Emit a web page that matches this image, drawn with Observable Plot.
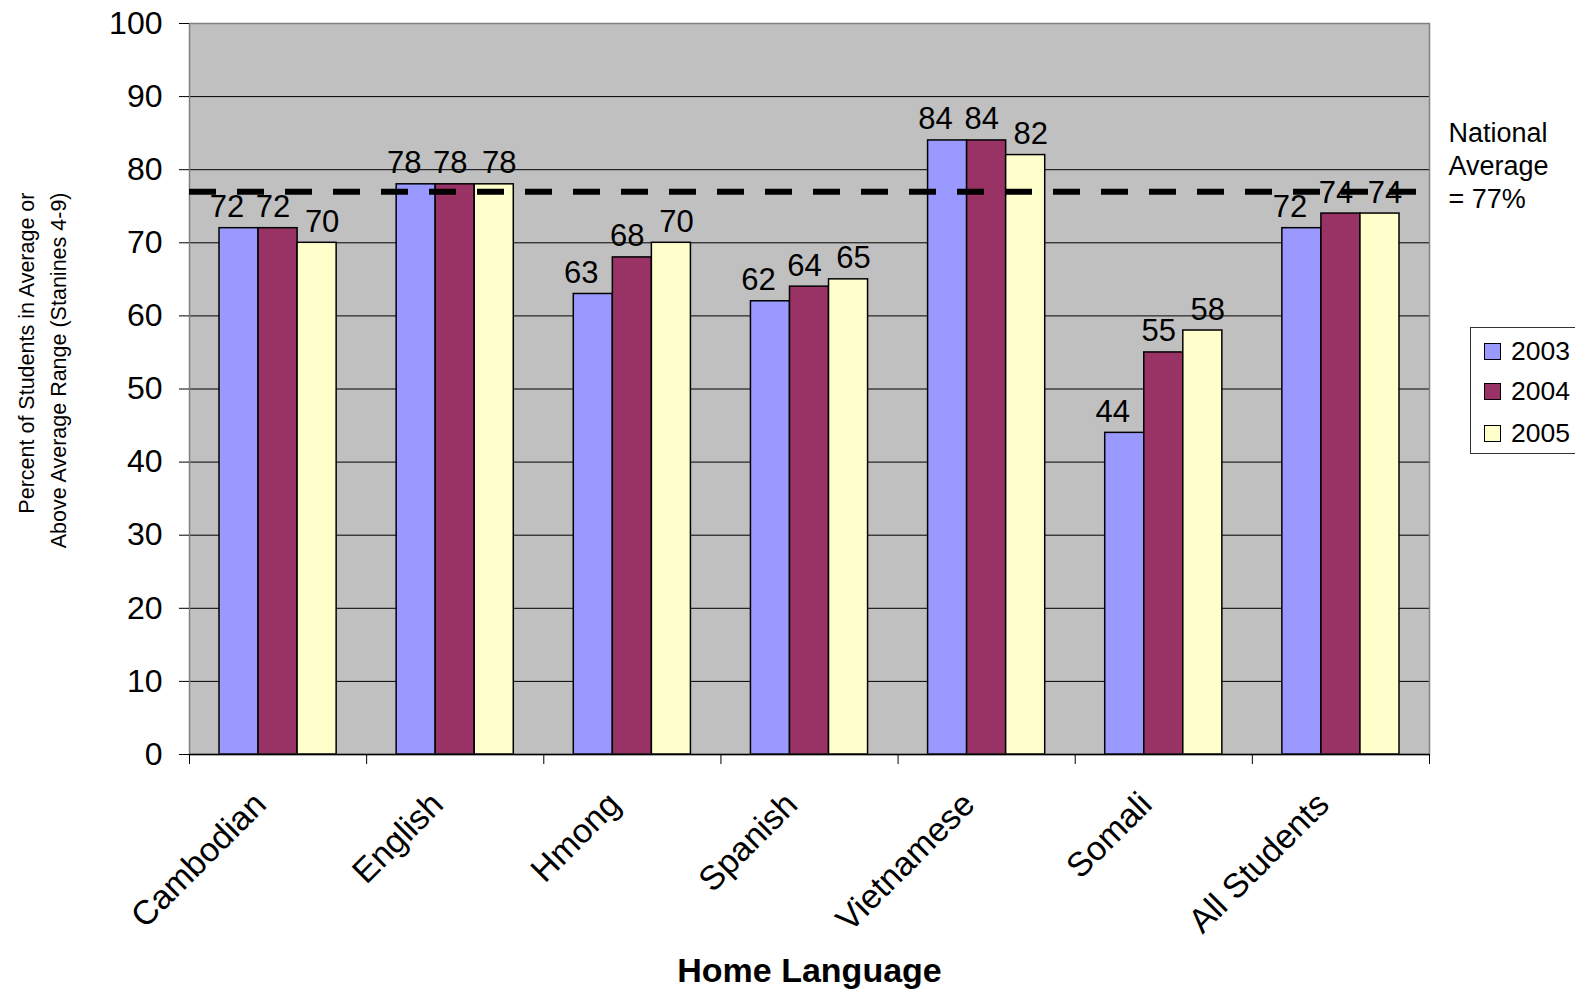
<!DOCTYPE html>
<html>
<head>
<meta charset="utf-8">
<script src="https://cdn.jsdelivr.net/npm/d3@7"></script>
<script src="https://cdn.jsdelivr.net/npm/@observablehq/plot@0.6"></script>
<style>
  html, body { margin: 0; padding: 0; background: #fff; overflow: hidden; }
  #wrap { position: relative; width: 1575px; height: 990px; font-family: "Liberation Sans", Arial, sans-serif; }
  #legend { position: absolute; left: 1470px; top: 327px; width: 130px; height: 127px; box-sizing: border-box; border: 1px solid #333; background: #fff; }
  .item { position: absolute; left: 13px; height: 30px; display: flex; align-items: center; font-size: 26.5px; color: #000; }
  .sw { width: 15px; height: 15px; border: 1px solid #000; margin-right: 10px; flex: none; }
</style>
</head>
<body>
<div id="wrap"></div>
<script>
// Home-language groups and the three school years shown for each
const categories = ["Cambodian", "English", "Hmong", "Spanish", "Vietnamese", "Somali", "All Students"];
const years = ["2003", "2004", "2005"];
const colors = ["#9999FF", "#993366", "#FFFFCC"];

// Percent of students in the average or above-average range (stanines 4-9)
const values2003 = [72, 78, 63, 62, 84, 44, 72];
const values2004 = [72, 78, 68, 64, 84, 55, 74];
const values2005 = [70, 78, 70, 65, 82, 58, 74];

const yTicks = [0, 10, 20, 30, 40, 50, 60, 70, 80, 90, 100];
const nationalAverage = 77;
const nationalLabel = "National\nAverage\n= 77%";
const yTitle = "Percent of Students in Average or\nAbove Average Range (Stanines 4-9)";
const xTitle = "Home Language";

const series = [values2003, values2004, values2005];
const rows = categories.flatMap((category, i) =>
  years.map((year, j) => ({category, index: i, year, value: series[j][i]}))
);

// Position of each year's bar inside its language group (in group units)
const inner = d3.scaleBand().domain(years).range([0.1694, 0.8306]);
const labelShift = {"2003": -12, "2004": -5, "2005": 5};

const font = "'Liberation Sans', Arial, sans-serif";

const chart = Plot.plot({
  width: 1575,
  height: 990,
  marginLeft: 189,
  marginRight: 146,
  marginTop: 23,
  marginBottom: 236,
  x: {domain: [0, categories.length], axis: null},
  y: {domain: [0, 100], axis: null},
  color: {domain: years, range: colors},
  style: {fontFamily: font, background: "white", overflow: "visible", color: "black"},
  marks: [
    Plot.frame({fill: "#C0C0C0"}),
    Plot.ruleY(yTicks.slice(1, -1), {stroke: "black", strokeWidth: 1}),
    Plot.rect(rows, {
      x1: d => d.index + inner(d.year),
      x2: d => d.index + inner(d.year) + inner.bandwidth(),
      y1: 0,
      y2: "value",
      fill: "year",
      stroke: "black",
      strokeWidth: 1.5
    }),
    Plot.frame({stroke: "#808080", strokeWidth: 1.5}),
    Plot.ruleY([0], {stroke: "black", strokeWidth: 1.5}),
    Plot.ruleY([nationalAverage], {stroke: "black", strokeWidth: 6, strokeDasharray: "27,21"}),
    Plot.axisY({ticks: yTicks, tickSize: 10, tickPadding: 17, fontSize: 32, label: null, stroke: "black"}),
    Plot.axisX({ticks: d3.range(0, categories.length + 1), tickSize: 10, tickFormat: () => "", label: null, stroke: "black"}),
    Plot.text(categories, {
      x: (d, i) => i + 0.5,
      frameAnchor: "bottom",
      rotate: -45,
      textAnchor: "end",
      lineAnchor: "bottom",
      dx: -10,
      dy: 52,
      fontSize: 34,
      fill: "black"
    }),
    ...years.map(year => Plot.text(rows.filter(d => d.year === year), {
      x: d => d.index + inner(d.year) + inner.bandwidth() / 2,
      y: "value",
      text: d => String(d.value),
      lineAnchor: "bottom",
      dx: labelShift[year],
      dy: -11,
      fontSize: 31,
      fill: "black"
    })),
    Plot.text([yTitle], {
      frameAnchor: "top-left",
      rotate: -90,
      textAnchor: "end",
      lineAnchor: "bottom",
      lineHeight: 1.45,
      dx: -124,
      dy: 169,
      fontSize: 21.5,
      fill: "black"
    }),
    Plot.text([xTitle], {
      frameAnchor: "bottom",
      lineAnchor: "bottom",
      dy: 227,
      fontSize: 34,
      fontWeight: "bold",
      fill: "black"
    }),
    Plot.text([nationalLabel], {
      frameAnchor: "top-right",
      textAnchor: "start",
      lineAnchor: "top",
      lineHeight: 1.22,
      dx: 19,
      dy: 95,
      fontSize: 27,
      fill: "black"
    })
  ]
});

const wrap = document.getElementById("wrap");
wrap.appendChild(chart);

// Swatch legend for the three years
const legend = document.createElement("div");
legend.id = "legend";
const centers = [23, 63, 105];
years.forEach((year, i) => {
  const item = document.createElement("div");
  item.className = "item";
  item.style.top = (centers[i] - 15) + "px";
  const sw = document.createElement("span");
  sw.className = "sw";
  sw.style.background = colors[i];
  const label = document.createElement("span");
  label.textContent = year;
  item.appendChild(sw);
  item.appendChild(label);
  legend.appendChild(item);
});
wrap.appendChild(legend);
</script>
</body>
</html>
